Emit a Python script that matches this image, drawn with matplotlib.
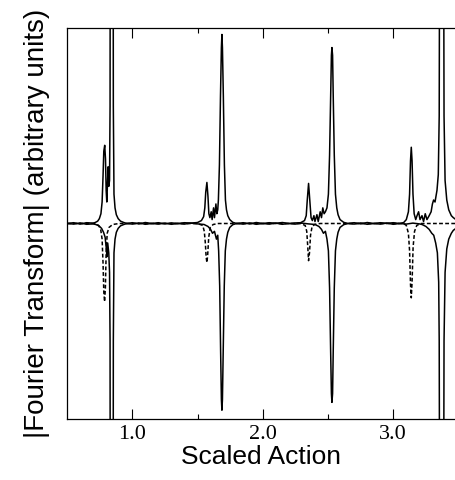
import matplotlib
matplotlib.use("Agg")
import matplotlib.pyplot as plt

# values; y scaled so the frame runs from -1 to 1
# upper solid curve (all peaks)
upper_x = [0.50, 0.55, 0.60, 0.65, 0.70,
           0.716, 0.735, 0.748, 0.760, 0.769, 0.776, 0.782, 0.789, 0.795,
           0.800, 0.805, 0.810, 0.815, 0.820, 0.826, 0.830, 0.831, 0.854,
           0.855, 0.860, 0.868, 0.878, 0.892, 0.910, 0.935, 0.960,
           1.00, 1.05, 1.10, 1.15, 1.20, 1.25, 1.30, 1.35, 1.40, 1.45,
           1.50, 1.53, 1.547, 1.556, 1.563, 1.572, 1.580, 1.587, 1.595,
           1.605, 1.612, 1.623, 1.630, 1.641, 1.648, 1.655, 1.660, 1.668,
           1.676, 1.683, 1.687, 1.691, 1.698, 1.706, 1.714, 1.722, 1.732,
           1.747, 1.770, 1.80,
           1.85, 1.90, 1.95, 2.00, 2.05, 2.10, 2.15, 2.20, 2.25,
           2.29, 2.32, 2.333, 2.341, 2.351, 2.360, 2.370, 2.380, 2.392,
           2.400, 2.415, 2.425, 2.440, 2.450, 2.460, 2.470, 2.480, 2.492,
           2.503, 2.512, 2.520, 2.526, 2.530, 2.535, 2.540, 2.548, 2.557,
           2.567, 2.577, 2.592, 2.62, 2.65,
           2.70, 2.75, 2.80, 2.85, 2.90, 2.95, 3.00, 3.05,
           3.08, 3.100, 3.116, 3.125, 3.132, 3.138, 3.144, 3.151, 3.160,
           3.172, 3.182, 3.194, 3.205, 3.220, 3.232, 3.245, 3.258, 3.275,
           3.290, 3.300, 3.309, 3.320, 3.335, 3.345, 3.352, 3.355, 3.386,
           3.389, 3.397, 3.410, 3.425, 3.445, 3.46, 3.48]
upper_y = [0.0, 0.004, -0.003, 0.004, 0.002,
           0.005, 0.012, 0.025, 0.05, 0.11, 0.24, 0.37, 0.40, 0.33,
           0.17, 0.11, 0.20, 0.29, 0.19, 0.22, 0.6, 1.5, 1.5,
           0.6, 0.15, 0.08, 0.045, 0.025, 0.012, 0.005, 0.0,
           0.004, -0.002, 0.005, 0.0, 0.004, -0.002, 0.003, 0.0, 0.004, 0.002,
           0.005, 0.015, 0.035, 0.08, 0.16, 0.21, 0.14, 0.05, 0.03,
           0.06, 0.02, 0.08, 0.03, 0.10, 0.05, 0.07, 0.12, 0.30,
           0.65, 0.90, 0.967, 0.90, 0.65, 0.30, 0.12, 0.07, 0.04,
           0.02, 0.006, 0.0,
           0.004, -0.002, 0.005, 0.0, 0.004, 0.001, 0.005, 0.0, 0.003,
           0.004, 0.015, 0.04, 0.12, 0.205, 0.12, 0.03, 0.015, 0.04,
           0.01, 0.045, 0.01, 0.06, 0.03, 0.08, 0.05, 0.06, 0.08,
           0.15, 0.35, 0.65, 0.86, 0.90, 0.86, 0.65, 0.35, 0.15,
           0.08, 0.045, 0.02, 0.006, 0.0,
           0.004, -0.002, 0.005, 0.0, 0.004, 0.001, 0.004, 0.0,
           0.005, 0.02, 0.06, 0.15, 0.32, 0.39, 0.32, 0.15, 0.05,
           0.02, 0.04, 0.06, 0.02, 0.04, 0.01, 0.05, 0.02, 0.04,
           0.06, 0.10, 0.12, 0.11, 0.17, 0.25, 0.55, 1.5, 1.5,
           0.55, 0.22, 0.12, 0.07, 0.04, 0.03, 0.02]

# lower solid curve (strong peaks, drawn downwards)
lower_x = [0.50, 0.55, 0.60, 0.65, 0.70,
           0.72, 0.745, 0.765, 0.780, 0.792, 0.800, 0.806, 0.812, 0.820,
           0.826, 0.830, 0.831, 0.854, 0.855, 0.860, 0.868, 0.878, 0.892,
           0.910, 0.935, 0.96,
           1.00, 1.05, 1.10, 1.15, 1.20, 1.25, 1.30, 1.35, 1.40, 1.45, 1.50,
           1.55, 1.58, 1.600, 1.615, 1.630, 1.645, 1.655, 1.662, 1.670,
           1.677, 1.683, 1.687, 1.691, 1.697, 1.705, 1.713, 1.722, 1.732,
           1.747, 1.77, 1.80,
           1.85, 1.90, 1.95, 2.00, 2.05, 2.10, 2.15, 2.20, 2.25, 2.30, 2.35,
           2.40, 2.43, 2.450, 2.465, 2.480, 2.492, 2.503, 2.512, 2.520,
           2.526, 2.530, 2.535, 2.540, 2.548, 2.557, 2.567, 2.577, 2.592,
           2.62, 2.65,
           2.70, 2.75, 2.80, 2.85, 2.90, 2.95, 3.00, 3.05, 3.10, 3.15, 3.20,
           3.22, 3.25, 3.275, 3.295, 3.31, 3.325, 3.338, 3.348, 3.352,
           3.355, 3.386, 3.389, 3.397, 3.41, 3.425, 3.445, 3.46, 3.48]
lower_y = [0.0, -0.003, 0.003, -0.004, -0.002,
           -0.005, -0.012, -0.025, -0.045, -0.07, -0.12, -0.17, -0.10, -0.15,
           -0.25, -0.6, -1.5, -1.5, -0.6, -0.15, -0.08, -0.045, -0.025,
           -0.012, -0.005, 0.0,
           -0.003, 0.003, -0.004, 0.0, -0.003, 0.002, -0.004, 0.0, -0.003,
           0.002, -0.002,
           -0.005, -0.015, -0.03, -0.05, -0.04, -0.08, -0.06, -0.14, -0.32,
           -0.65, -0.90, -0.955, -0.90, -0.65, -0.32, -0.14, -0.08, -0.045,
           -0.02, -0.006, 0.0,
           -0.003, 0.003, -0.004, 0.0, -0.003, 0.002, -0.004, 0.0, -0.003,
           0.002, -0.002,
           -0.005, -0.015, -0.03, -0.05, -0.04, -0.08, -0.14, -0.33, -0.65,
           -0.87, -0.915, -0.87, -0.65, -0.33, -0.14, -0.08, -0.045, -0.02,
           -0.006, 0.0,
           -0.003, 0.003, -0.004, 0.0, -0.003, 0.002, -0.004, 0.0, -0.003,
           0.002, -0.002,
           -0.005, -0.015, -0.03, -0.05, -0.06, -0.10, -0.15, -0.30, -0.6,
           -1.5, -1.5, -0.6, -0.25, -0.13, -0.08, -0.05, -0.035, -0.025]

# lower dashed curve (weak peaks, drawn downwards)
dashed_x = [0.50, 0.72, 0.742, 0.758, 0.769, 0.776, 0.782, 0.788, 0.794,
            0.800, 0.808, 0.822, 0.85, 0.90,
            1.50, 1.540, 1.552, 1.560, 1.566, 1.572, 1.578, 1.586, 1.598,
            1.62, 1.66,
            2.29, 2.325, 2.337, 2.344, 2.351, 2.358, 2.366, 2.378, 2.40, 2.44,
            3.08, 3.100, 3.116, 3.125, 3.132, 3.138, 3.144, 3.152, 3.163,
            3.18, 3.21, 3.48]
dashed_y = [0.0, 0.0, -0.01, -0.03, -0.08, -0.20, -0.35, -0.40, -0.33,
            -0.15, -0.05, -0.02, -0.005, 0.0,
            0.0, -0.01, -0.04, -0.10, -0.17, -0.20, -0.16, -0.07, -0.02,
            -0.005, 0.0,
            0.0, -0.01, -0.04, -0.11, -0.19, -0.15, -0.06, -0.015, -0.004, 0.0,
            0.0, -0.01, -0.05, -0.14, -0.31, -0.38, -0.30, -0.12, -0.04,
            -0.01, 0.0, 0.0]

major_ticks = [1.0, 2.0, 3.0]
minor_ticks = [1.5, 2.5]
tick_labels = ["1.0", "2.0", "3.0"]

fig = plt.figure(figsize=(4.55, 4.8), dpi=100)
ax = fig.add_axes([67 / 455, 1 - 419 / 480, 1 - 67 / 455, 391 / 480])

ax.plot(upper_x, upper_y, color="black", lw=1.1)
ax.plot(lower_x, lower_y, color="black", lw=1.1)
ax.plot(dashed_x, dashed_y, color="black", lw=1.1, dashes=(2.5, 1.5))

ax.set_xlim(0.5, 3.473)
ax.set_ylim(-1, 1)

ax.set_xticks(major_ticks)
ax.set_xticklabels(tick_labels, family="Liberation Serif", fontsize=16)
ax.set_xticks(minor_ticks, minor=True)
ax.set_yticks([])
ax.tick_params(axis="x", which="major", direction="in", length=7.5,
               width=0.8, top=True, pad=4)
ax.tick_params(axis="x", which="minor", direction="in", length=3.8,
               width=0.8, top=True)

ax.spines["right"].set_visible(False)
for s in ["left", "top", "bottom"]:
    ax.spines[s].set_linewidth(0.9)

ax.set_xlabel("Scaled Action", family="Liberation Sans", fontsize=19,
              labelpad=1)
ax.set_ylabel("|Fourier Transform| (arbitrary units)",
              family="Liberation Sans", fontsize=20, labelpad=12)

fig.savefig("out.png", dpi=100)
